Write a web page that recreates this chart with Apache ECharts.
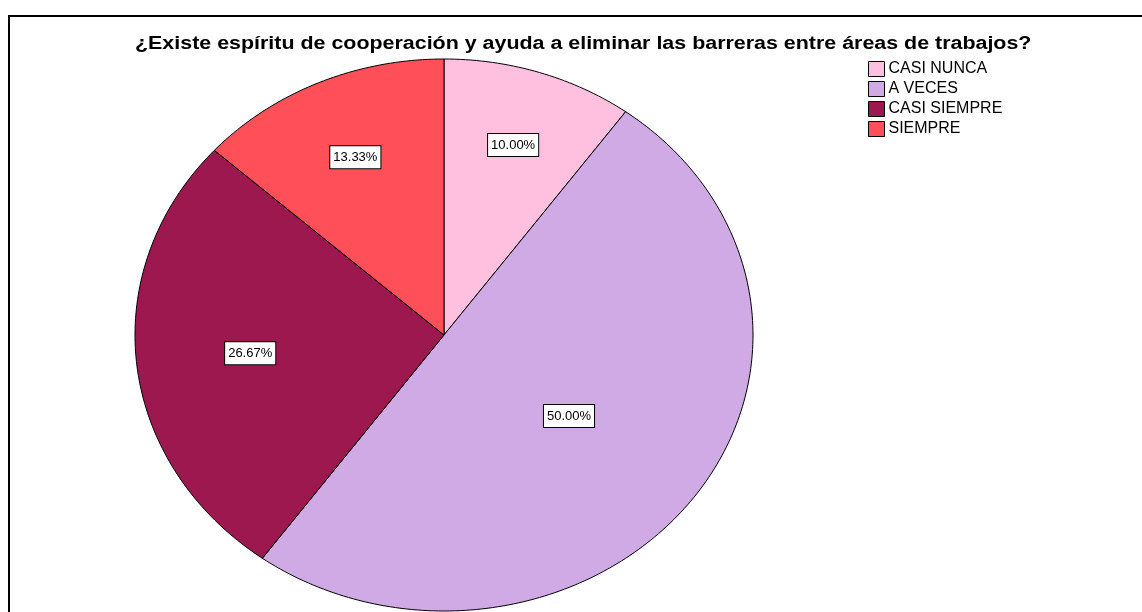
<!DOCTYPE html>
<html>
<head>
<meta charset="utf-8">
<script src="https://cdn.jsdelivr.net/npm/echarts@6/dist/echarts.min.js"></script>
<style>
html,body{margin:0;padding:0;background:#fff;}
#chart{width:1142px;height:612px;}
</style>
</head>
<body>
<div id="chart"></div>
<script>
const titleText = '¿Existe espíritu de cooperación y ayuda a eliminar las barreras entre áreas de trabajos?';
const categories = ['CASI NUNCA', 'A VECES', 'CASI SIEMPRE', 'SIEMPRE'];
const counts = [3, 15, 8, 4];
const colors = ['#FFC0E0', '#D0AAE4', '#9E1850', '#FF505A'];

const total = counts.reduce((a, b) => a + b, 0);
const cumStart = [];
let acc = 0;
counts.forEach(v => { cumStart.push(acc); acc += v; });

// ellipse geometry (layout)
const CX = 444, CY = 335, RX = 309, RY = 276;

function pt(theta, f) {
  // theta measured clockwise from 12 o'clock
  return [CX + RX * f * Math.sin(theta), CY - RY * f * Math.cos(theta)];
}

function renderSlice(params, api) {
  const i = params.seriesIndex;
  const v = api.value(0);
  const a0 = cumStart[i] / total * Math.PI * 2;
  const a1 = (cumStart[i] + v) / total * Math.PI * 2;
  const n = Math.max(8, Math.ceil((a1 - a0) / (Math.PI * 2) * 360));
  const points = [[CX, CY]];
  for (let k = 0; k <= n; k++) {
    points.push(pt(a0 + (a1 - a0) * k / n, 1));
  }
  const span = a1 - a0;
  const f = 0.78 - 0.28 * span / Math.PI;
  const lp = pt((a0 + a1) / 2, f);
  const pct = (v / total * 100).toFixed(2) + '%';
  return {
    type: 'group',
    children: [
      {
        type: 'polygon',
        shape: { points: points },
        style: { fill: colors[i], stroke: '#000', lineWidth: 1 }
      },
      {
        type: 'text',
        z2: 10,
        style: {
          text: pct,
          x: lp[0], y: lp[1],
          align: 'center', verticalAlign: 'middle',
          font: '13px "Liberation Sans", Arial, sans-serif',
          fill: '#000',
          backgroundColor: '#fff',
          borderColor: '#000',
          borderWidth: 1,
          padding: [5, 3, 4, 3],
          boxShadowColor: 'rgba(0,0,0,0.35)',
          boxShadowOffsetX: 2,
          boxShadowOffsetY: 2,
          boxShadowBlur: 0
        }
      }
    ]
  };
}

const series = categories.map((name, i) => ({
  name: name,
  type: 'custom',
  coordinateSystem: 'none',
  color: colors[i],
  itemStyle: { color: colors[i], borderColor: '#000', borderWidth: 1 },
  renderItem: renderSlice,
  data: [[counts[i]]],
  silent: true,
  animation: false
}));

const chart = echarts.init(document.getElementById('chart'));
chart.setOption({
  backgroundColor: '#fff',
  animation: false,
  legend: {
    orient: 'vertical',
    left: 868,
    top: 61,
    padding: 0,
    itemWidth: 16,
    itemHeight: 15,
    itemGap: 4,
    icon: 'rect',
    selectedMode: false,
    data: categories,
    itemStyle: { borderColor: '#000', borderWidth: 1 },
    textStyle: {
      fontFamily: '"Liberation Sans", Arial, sans-serif',
      fontSize: 16,
      color: '#000',
      padding: [0, 0, 0, -1]
    }
  },
  graphic: [
    {
      type: 'text',
      x: 135,
      y: 44,
      scaleX: 1.19,
      silent: true,
      style: {
        text: titleText,
        align: 'left',
        verticalAlign: 'middle',
        font: 'bold 18px "Liberation Sans", Arial, sans-serif',
        fill: '#000'
      }
    },
    {
      type: 'rect',
      shape: { x: 9, y: 16, width: 2000, height: 2000 },
      style: { fill: 'none', stroke: '#000', lineWidth: 2 },
      silent: true,
      z: 100
    }
  ],
  series: series
});
</script>
</body>
</html>
